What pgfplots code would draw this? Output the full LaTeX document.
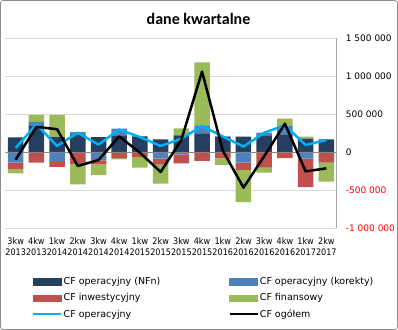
\documentclass[border=0pt]{standalone}
\usepackage{fontspec}
\setmainfont{DejaVu Sans}
\newfontfamily\titlefont{Carlito}
\newfontfamily\condfont{DejaVu Sans Condensed}
\usepackage{pgfplots}
\usepackage{pgfplotstable}
\pgfplotsset{compat=1.18}
\definecolor{nfn}{HTML}{243F60}
\definecolor{kor}{HTML}{4F81BD}
\definecolor{inw}{HTML}{C0504D}
\definecolor{fin}{HTML}{9BBB59}
\definecolor{cfop}{HTML}{00B0F0}
\definecolor{gridc}{HTML}{D9D9D9}
\definecolor{axc}{HTML}{A6A6A6}
\definecolor{zeroc}{HTML}{868686}
\definecolor{framec}{HTML}{8C8C8C}

% positive parts (stacked upward)
\pgfplotstableread{
x nfn kor inw fin
0 193000 0 0 0
1 351000 44000 0 92000
2 197000 0 0 290000
3 232000 31000 0 0
4 197000 0 0 0
5 219000 88000 0 0
6 206000 0 0 0
7 167000 0 0 0
8 219000 0 0 92000
9 246000 105000 0 829000
10 202000 3000 0 0
11 202000 0 0 0
12 219000 35000 0 0
13 232000 110000 0 97000
14 175000 0 0 26000
15 167000 0 0 0
}\postab
% negative parts (stacked downward)
\pgfplotstableread{
x nfn kor inw fin
0 0 -140000 -88000 -53000
1 0 0 -140000 0
2 0 -118000 -79000 0
3 0 0 -162000 -263000
4 0 -110000 -53000 -140000
5 0 0 -79000 -18000
6 0 -9000 -57000 -140000
7 0 -88000 -79000 -250000
8 0 -31000 -118000 0
9 0 0 -118000 0
10 0 0 -83000 -88000
11 0 -140000 -96000 -422000
12 0 0 -206000 -66000
13 0 0 -79000 0
14 0 -88000 -373000 0
15 0 -9000 -132000 -250000
}\negtab
\pgfplotstableread{
x op tot
0 53000 -100000
1 364000 330000
2 79000 300000
3 254000 -184000
4 97000 -105000
5 295000 205000
6 197000 -9000
7 79000 -263000
8 175000 160000
9 342000 1058000
10 205000 20000
11 70000 -469000
12 254000 -55000
13 351000 372000
14 92000 -255000
15 158000 -215000
}\linetab

\pgfplotsset{basechart/.style={scale only axis, width=331.4bp, height=190bp,
  at={(5.3bp,102bp)}, anchor=south west,
  xmin=-0.5, xmax=15.5, ymin=-1000000, ymax=1500000, enlargelimits=false,
  scaled y ticks=false}}

\begin{document}
\begin{tikzpicture}
\useasboundingbox (0,0) rectangle (398bp,330bp);
\draw[framec, line width=0.75bp, rounded corners=3bp] (0.4bp,0.4bp) rectangle (397.6bp,329.6bp);
\node[anchor=base, inner sep=0pt] at (198.5bp,305bp) {\titlefont\bfseries\fontsize{16bp}{18bp}\selectfont dane kwartalne};

\begin{axis}[basechart, ybar stacked, bar width=15.5bp,
  axis x line*=bottom, axis y line*=right,
  x axis line style={draw=gridc, line width=0.8bp, -},
  y axis line style={draw=axc, line width=0.8bp, -},
  ymajorgrids, grid style={draw=gridc, line width=0.8bp},
  major tick length=0pt, tick style={draw=none},
  xtick={0,...,15},
  xticklabels={{3kw\\2013},{4kw\\2013},{1kw\\2014},{2kw\\2014},{3kw\\2014},{4kw\\2014},{1kw\\2015},{2kw\\2015},{3kw\\2015},{4kw\\2015},{1kw\\2016},{2kw\\2016},{3kw\\2016},{4kw\\2016},{1kw\\2017},{2kw\\2017}},
  xticklabel style={font=\condfont\fontsize{9bp}{11.4bp}\selectfont, align=center, inner sep=0pt, yshift=-9.5bp},
  ytick={-1000000,-500000,0,500000,1000000,1500000},
  yticklabels={\textcolor{red}{-1 000 000},\textcolor{red}{-500 000},0,500 000,1 000 000,1 500 000},
  yticklabel style={font=\fontsize{9bp}{11bp}\selectfont, anchor=west, inner sep=0pt, xshift=9bp},
]
\addplot[fill=nfn, draw=none] table[x=x,y=nfn]{\postab};
\addplot[fill=kor, draw=none] table[x=x,y=kor]{\postab};
\addplot[fill=inw, draw=none] table[x=x,y=inw]{\postab};
\addplot[fill=fin, draw=none] table[x=x,y=fin]{\postab};
\end{axis}

\begin{axis}[basechart, hide axis, ybar stacked, bar width=15.5bp]
\addplot[fill=kor, draw=none] table[x=x,y=kor]{\negtab};
\addplot[fill=inw, draw=none] table[x=x,y=inw]{\negtab};
\addplot[fill=fin, draw=none] table[x=x,y=fin]{\negtab};
\end{axis}

\begin{axis}[basechart, hide axis,
  legend columns=2, legend cell align=left,
  legend style={draw=none, fill=none, inner sep=0pt,
    font=\fontsize{9.5bp}{11bp}\selectfont,
    at={(axis description cs:0.0806,-0.253)}, anchor=north west,
    nodes={inner sep=1bp}, row sep=5.5bp,
    /tikz/every even column/.append style={column sep=67bp}},
]
\addlegendimage{legend image code/.code={\fill[nfn] (0bp,-3.1bp) rectangle (28bp,3.1bp);}}
\addlegendentry{CF operacyjny (NFn)}
\addlegendimage{legend image code/.code={\fill[kor] (0bp,-3.1bp) rectangle (28bp,3.1bp);}}
\addlegendentry{CF operacyjny (korekty)}
\addlegendimage{legend image code/.code={\fill[inw] (0bp,-3.1bp) rectangle (28bp,3.1bp);}}
\addlegendentry{CF inwestycyjny}
\addlegendimage{legend image code/.code={\fill[fin] (0bp,-3.1bp) rectangle (28bp,3.1bp);}}
\addlegendentry{CF finansowy}
\addplot[zeroc, line width=0.8bp, forget plot] coordinates {(-0.5,0) (15.5,0)};
\addplot[cfop, line width=2.5bp, line join=round, mark=none,
  legend image code/.code={\draw[cfop, line width=2.5bp] (0bp,0bp) -- (28bp,0bp);}]
  table[x=x,y=op]{\linetab};
\addlegendentry{CF operacyjny}
\addplot[black, line width=2.5bp, line join=round, mark=none,
  legend image code/.code={\draw[black, line width=2.5bp] (0bp,0bp) -- (28bp,0bp);}]
  table[x=x,y=tot]{\linetab};
\addlegendentry{CF ogółem}
\end{axis}
\end{tikzpicture}
\end{document}
